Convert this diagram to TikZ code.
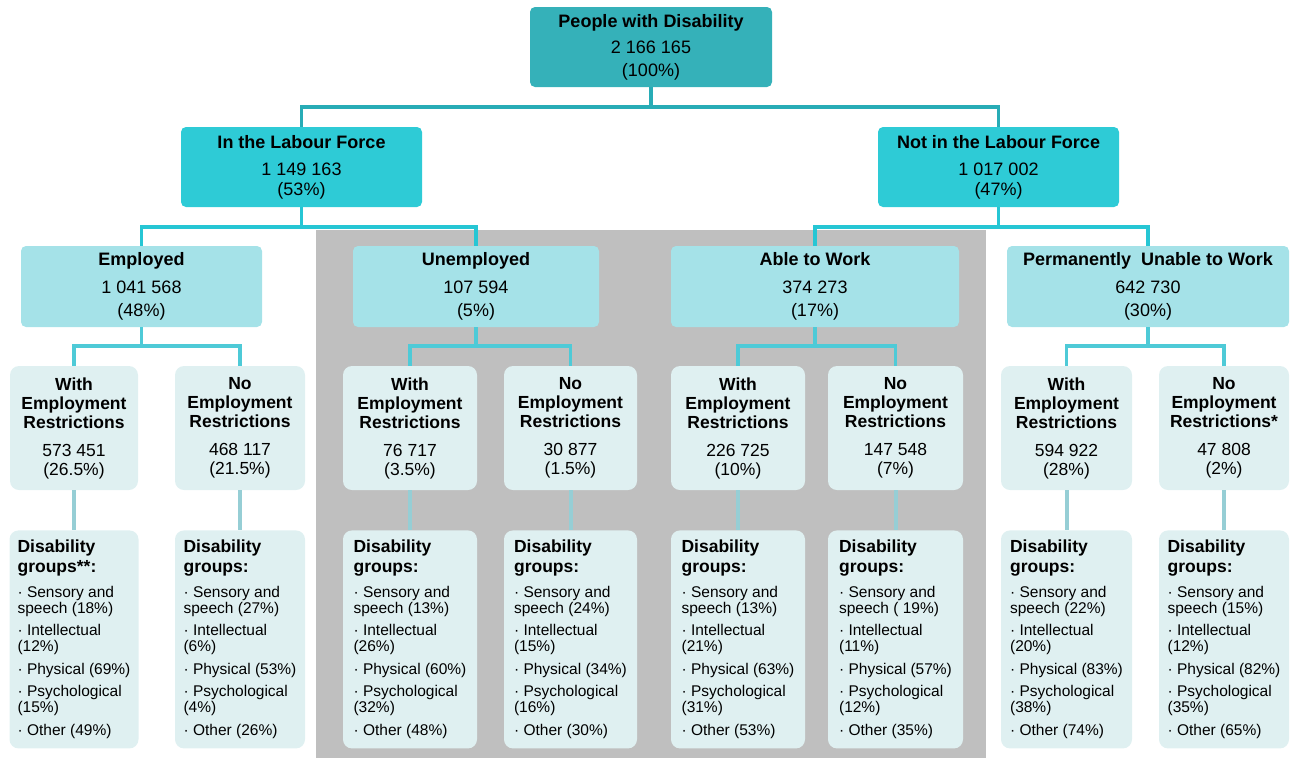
\documentclass[tikz,border=0pt]{standalone}
\usepackage{fontspec}
\setmainfont{Liberation Sans}
\usetikzlibrary{%
    calc,
    positioning
}
\definecolor{rootfill}{RGB}{53,177,185}
\definecolor{forcefill}{RGB}{46,203,214}
\definecolor{statusfill}{RGB}{165,226,232}
\definecolor{restrfill}{RGB}{223,240,241}
\definecolor{greyback}{RGB}{191,191,191}
\definecolor{linetop}{RGB}{40,172,182}
\definecolor{linemid}{RGB}{38,198,212}
\definecolor{linelow}{RGB}{78,202,215}
\definecolor{linefaint}{RGB}{150,206,213}
\tikzset{
    box/.style        = {rectangle, inner sep=0pt, align=center, text=black},
    rootbox/.style    = {box, rounded corners=5pt, fill=rootfill, minimum width=242pt,
                         minimum height=80pt, font=\fontsize{18}{23}\selectfont},
    forcebox/.style   = {box, rounded corners=5pt, fill=forcefill, minimum width=241pt,
                         minimum height=80pt, font=\fontsize{18}{20}\selectfont},
    statusbox/.style  = {box, rounded corners=5pt, fill=statusfill,
                         minimum height=81pt, font=\fontsize{18}{23}\selectfont},
    restrbox/.style   = {box, rounded corners=9pt, fill=restrfill,
                         minimum height=124pt, font=\fontsize{17.5}{19}\selectfont},
    groupbox/.style   = {box, align=left, rounded corners=9pt, fill=restrfill,
                         minimum height=218pt, font=\fontsize{15.5}{16}\selectfont},
    toplink/.style    = {draw=linetop, line width=3.5pt},
    midlink/.style    = {draw=linemid, line width=3.5pt},
    lowlink/.style    = {draw=linelow, line width=3.5pt},
    faintlink/.style  = {draw=linefaint, line width=4pt}
}
\newcommand{\grouphead}[1]{{\fontsize{17.5}{20}\selectfont\bfseries #1}}
\newcommand{\groupsof}[6]{\grouphead{Disability}\\[4pt]\grouphead{groups#1:}\\[8.5pt]%
    · Sensory and\\speech (#2\%)\\[6.5pt]%
    · Intellectual\\(#3\%)\\[6.5pt]%
    · Physical (#4\%)\\[6.5pt]%
    · Psychological\\(#5\%)\\[6.5pt]%
    · Other (#6\%)}
\newcommand{\restrof}[3]{\textbf{#1}\\\textbf{Employment}\\\textbf{Restrictions#2}\\[9pt]#3}

\begin{document}
\begin{tikzpicture}[x=1pt, y=-1pt]
    \useasboundingbox (0,0) rectangle (1293,758);
    \fill[greyback] (316,230) rectangle (986,758);

    \node[rootbox] (n-0-0) at (651,47) {\textbf{People with Disability}\\[3pt]2 166 165\\(100\%)};

    \node[forcebox] (n-1-0) at (301.5,167) {\textbf{In the Labour Force}\\[7pt]1 149 163\\(53\%)};
    \node[forcebox] (n-1-1) at (998.5,167) {\textbf{Not in the Labour Force}\\[7pt]1 017 002\\(47\%)};

    \node[statusbox, minimum width=241pt] (n-2-0) at (141.5,286.5) {\textbf{Employed}\\[5pt]1 041 568\\(48\%)};
    \node[statusbox, minimum width=246pt] (n-2-1) at (476,286.5) {\textbf{Unemployed}\\[5pt]107 594\\(5\%)};
    \node[statusbox, minimum width=288pt] (n-2-2) at (815,286.5) {\textbf{Able to Work}\\[5pt]374 273\\(17\%)};
    \node[statusbox, minimum width=282pt] (n-2-3) at (1148,286.5) {\textbf{Permanently\ \ Unable to Work}\\[5pt]642 730\\(30\%)};

    \node[restrbox, minimum width=128pt] (n-3-0) at (74,428) {\restrof{With}{}{573 451\\(26.5\%)}};
    \node[restrbox, minimum width=130pt] (n-3-1) at (240,428) {\restrof{No}{}{468 117\\(21.5\%)}};
    \node[restrbox, minimum width=134pt] (n-3-2) at (410,428) {\restrof{With}{}{76 717\\(3.5\%)}};
    \node[restrbox, minimum width=133pt] (n-3-3) at (570.5,428) {\restrof{No}{}{30 877\\(1.5\%)}};
    \node[restrbox, minimum width=134pt] (n-3-4) at (738,428) {\restrof{With}{}{226 725\\(10\%)}};
    \node[restrbox, minimum width=135pt] (n-3-5) at (895.5,428) {\restrof{No}{}{147 548\\(7\%)}};
    \node[restrbox, minimum width=131pt] (n-3-6) at (1066.5,428) {\restrof{With}{}{594 922\\(28\%)}};
    \node[restrbox, minimum width=130pt] (n-3-7) at (1224,428) {\restrof{No}{*}{47 808\\(2\%)}};

    \node[groupbox, minimum width=129pt] (n-4-0) [below=40pt of n-3-0] {\groupsof{**}{18}{12}{69}{15}{49}};
    \node[groupbox, minimum width=130pt] (n-4-1) [below=40pt of n-3-1] {\groupsof{}{27}{6}{53}{4}{26}};
    \node[groupbox, minimum width=134pt] (n-4-2) [below=40pt of n-3-2] {\groupsof{}{13}{26}{60}{32}{48}};
    \node[groupbox, minimum width=133pt] (n-4-3) [below=40pt of n-3-3] {\groupsof{}{24}{15}{34}{16}{30}};
    \node[groupbox, minimum width=134pt] (n-4-4) [below=40pt of n-3-4] {\groupsof{}{13}{21}{63}{31}{53}};
    \node[groupbox, minimum width=135pt] (n-4-5) [below=40pt of n-3-5] {\groupsof{}{\ 19}{11}{57}{12}{35}};
    \node[groupbox, minimum width=131pt] (n-4-6) [below=40pt of n-3-6] {\groupsof{}{22}{20}{83}{38}{74}};
    \node[groupbox, minimum width=130pt] (n-4-7) [below=40pt of n-3-7] {\groupsof{}{15}{12}{82}{35}{65}};

    \foreach \j in {0,1}
        \draw[toplink] (n-0-0.south) -- ++(0,20) -| (n-1-\j.north);
    \foreach \i/\j in {0/0,0/1,1/2,1/3}
        \draw[midlink] (n-1-\i.south) -- ++(0,20) -| (n-2-\j.north);
    \foreach \i/\j in {0/0,0/1,1/2,1/3,2/4,2/5,3/6,3/7}
        \draw[lowlink] (n-2-\i.south) -- ++(0,19) -| (n-3-\j.north);
    \foreach \k in {0,...,7}
        \draw[faintlink] (n-3-\k.south) -- (n-4-\k.north);
\end{tikzpicture}
\end{document}
